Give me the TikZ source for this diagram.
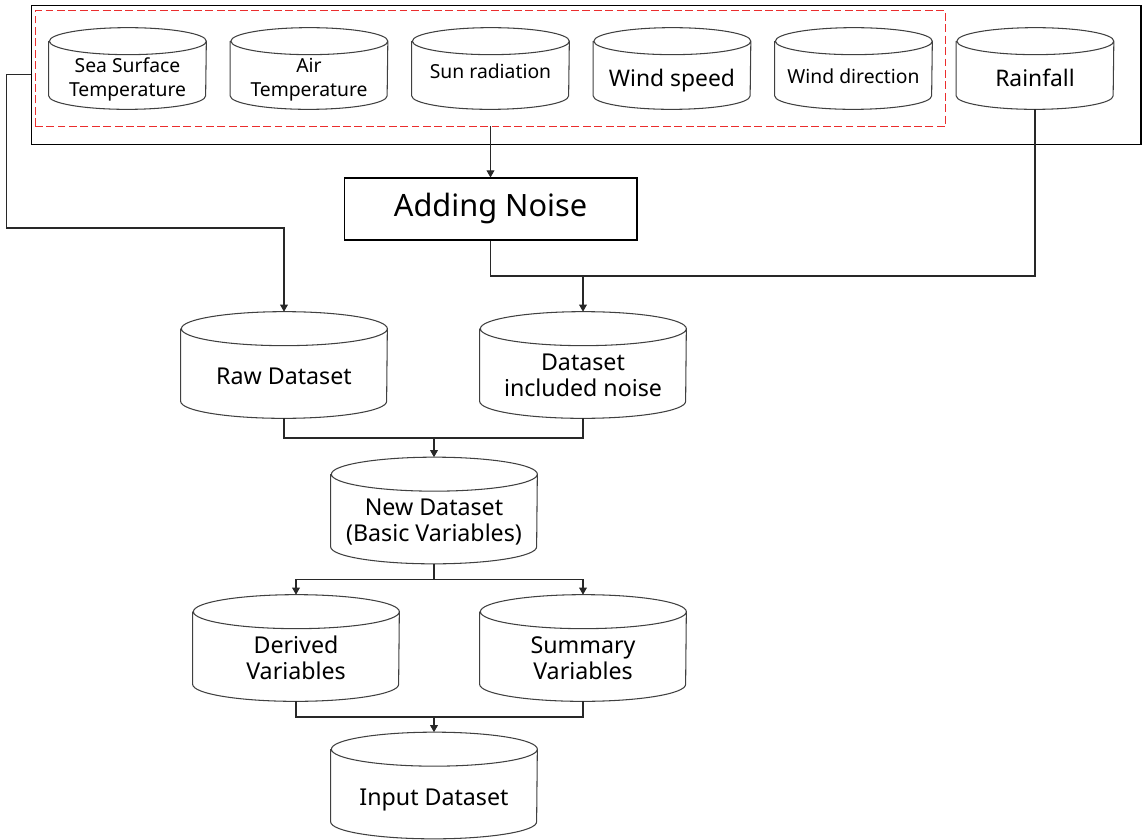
\documentclass[tikz,border=0pt]{standalone}
\usepackage{fontspec}
\setmainfont{Noto Sans}
\usepackage{xcolor}
\definecolor{dashred}{RGB}{235,45,45}
\definecolor{linegray}{RGB}{40,40,40}
\usetikzlibrary{positioning, calc, arrows.meta, fit}
\tikzstyle{Arrow} = [
draw=linegray,
line width=0.6pt,
-{Triangle[length=4pt, width=4.4pt]}]
\tikzstyle{Line} = [draw=linegray, line width=0.6pt]
\tikzstyle{CanLine} = [draw=black!75, line width=0.6pt]
\tikzstyle{Group} = [draw=dashred, dash pattern=on 4.5pt off 2pt, line width=0.7pt]
\tikzstyle{Small} = [minimum width=3.14cm, minimum height=1.62cm, inner sep=0pt,
align=center, font=\fontsize{11}{14}\selectfont]
\tikzstyle{Big} = [minimum width=4.12cm, minimum height=2.12cm, inner sep=0pt,
align=center, font=\fontsize{13.2}{15}\selectfont]
\tikzset{Base/.style={text height=#1, text depth=0pt}}

\begin{document}
\begin{tikzpicture}[x=0.02cm, y=-0.02cm]
    \useasboundingbox (0,0) rectangle (1143,839);
    \node [draw, line width=0.6pt, minimum width=22.19cm, minimum height=2.78cm] (0) at (586.35,74.8) {};
    \node [Small, Base=32.4pt] (1) at (127.5,68.5) {Sea Surface\\Temperature};
    \node [Small, Base=32pt] (2) at (309,68.5) {Air\\Temperature};
    \node [Small, Base=11.5pt] (3) at (490.5,68.5) {Sun radiation};
    \node [Small, Base=20.5pt, font=\fontsize{13}{15}\selectfont] (4) at (672,68.5) {Wind speed};
    \node [Small, Base=17.6pt] (5) at (853.5,68.5) {Wind direction};
    \node [Small, Base=20.5pt, font=\fontsize{13}{15}\selectfont] (6) at (1035,68.5) {Rainfall};
    \node [inner xsep=0.26cm, inner ysep=0.33cm, fit=(1)(5)] (g) {};
    \node [draw, line width=0.6pt, minimum width=5.86cm, minimum height=1.24cm,
        font=\fontsize{17.5}{20}\selectfont] (7) at (490.5,209) {Adding Noise};
    \node [Big, Base=22.5pt] (8) at (284,365) {Raw Dataset};
    \node [Big, Base=36.1pt] (9) at (583,365) {Dataset\\included noise};
    \node [Big, Base=35.5pt] (10) at (434,510.5) {New Dataset\\(Basic Variables)};
    \node [Big, Base=36.4pt] (11) at (296,648) {Derived\\Variables};
    \node [Big, Base=36.4pt] (12) at (583,648) {Summary\\Variables};
    \node [Big, Base=22.5pt] (13) at (434,785.5) {Input Dataset};

    % dashed group and cylinder outlines
    \draw[Group] (g.south west) rectangle (g.north east);
    \foreach \n in {1,...,6}
        \draw[CanLine] ([yshift=-0.27cm]\n.north west) -- ([yshift=0.27cm]\n.south west)
            arc[start angle=180, end angle=360, x radius=1.57cm, y radius=0.27cm]
            -- ([yshift=-0.27cm]\n.north east)
            arc[start angle=0, end angle=360, x radius=1.57cm, y radius=0.27cm];
    \foreach \n in {8,...,13}
        \draw[CanLine] ([yshift=-0.34cm]\n.north west) -- ([yshift=0.34cm]\n.south west)
            arc[start angle=180, end angle=360, x radius=2.06cm, y radius=0.34cm]
            -- ([yshift=-0.34cm]\n.north east)
            arc[start angle=0, end angle=360, x radius=2.06cm, y radius=0.34cm];

    \draw[Arrow] (0.west) -- ++(-24.7,0) |- (8.north |- 0,228) -- (8.north);
    \draw[Arrow] (g) -- (7);
    \draw[Line] (6.south) |- (7.south |- 0,276) -- (7.south);
    \draw[Arrow] (9.north |- 0,276) -- (9.north);
    \draw[Line] (8.south) |- (9.south |- 0,438) -- (9.south);
    \draw[Arrow] (10.north |- 0,438) -- (10.north);
    \draw[Arrow] (10.south) -- ++(0,16) -| (11.north);
    \draw[Arrow] (10.south) -- ++(0,16) -| (12.north);
    \draw[Line] (11.south) |- (12.south |- 0,717) -- (12.south);
    \draw[Arrow] (13.north |- 0,717) -- (13.north);
\end{tikzpicture}
\end{document}
